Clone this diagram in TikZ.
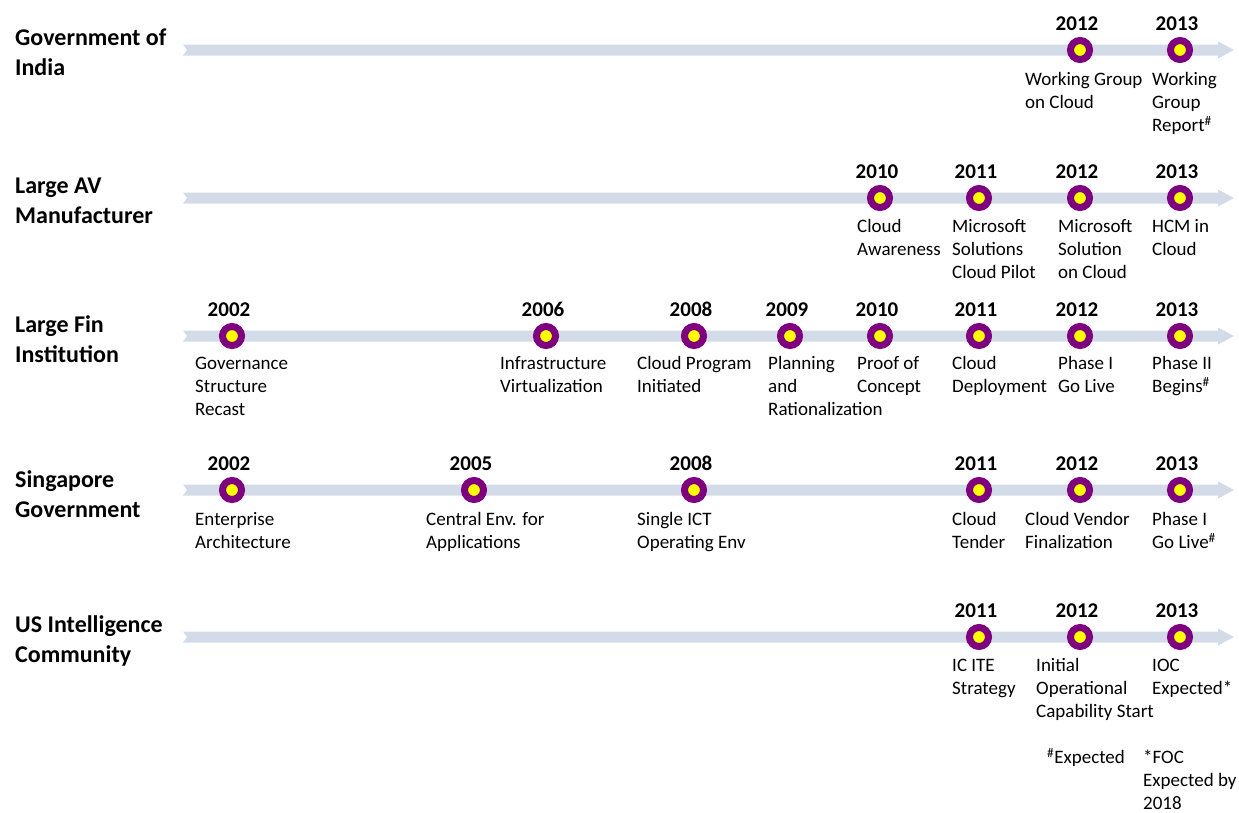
\documentclass[tikz,border=0pt]{standalone}
\usepackage{fontspec}
\setmainfont{Carlito}
\usetikzlibrary{calc}
\definecolor{barc}{HTML}{D3DAE8}
\definecolor{dotp}{HTML}{7F007F}
\definecolor{doty}{HTML}{FFFF00}
\tikzset{
  dotn/.style={circle, draw=dotp, line width=7pt, fill=doty, minimum size=19pt, inner sep=0pt},
  yearn/.style={inner sep=0pt, anchor=base, font=\bfseries\fontsize{21}{25}\selectfont},
  lbln/.style={inner sep=0pt, anchor=north west, align=left, font=\fontsize{19}{23}\selectfont},
  titlen/.style={inner sep=0pt, anchor=north west, align=left, font=\bfseries\fontsize{24}{30}\selectfont},
  barn/.style={fill=barc}
}
\newcommand\tlbar[2]{%
  \coordinate (#1s) at (183,#2);
  \coordinate (#1e) at (1234,#2);
  \fill[barn] ($(#1s)+(0,-5.5)$) -- ($(#1e)+(-16,-5.5)$) -- ($(#1e)+(-16,-8.5)$) -- (#1e)
     -- ($(#1e)+(-16,8.5)$) -- ($(#1e)+(-16,5.5)$) -- ($(#1s)+(0,5.5)$) -- ($(#1s)+(4,0)$) -- cycle;}
\newcommand\ev[7]{%
  \node[dotn] (#1) at (#2,#3) {};
  \node[yearn] (#1y) at ($(#1)+(-3,-19.5)$) {#4};
  \node[lbln] (#1l) at (#5,#6) {\strut #7};}
\begin{document}
\begin{tikzpicture}[x=1pt,y=-1pt]
\useasboundingbox (0,0) rectangle (1239,812);
% titles
\node[titlen] (t1) at (15,24) {\strut Government of\\India};
\node[titlen] (t2) at (15,172) {\strut Large AV\\Manufacturer};
\node[titlen] (t3) at (15,311) {\strut Large Fin\\Institution};
\node[titlen] (t4) at (15,466) {\strut Singapore\\Government};
\node[titlen] (t5) at (15,611) {\strut US Intelligence\\Community};
% bars
\tlbar{r1}{50}
\tlbar{r2}{198}
\tlbar{r3}{336}
\tlbar{r4}{490}
\tlbar{r5}{637}
% row 1
\ev{g12}{1080}{50}{2012}{1025}{69}{Working Group\\on Cloud}
\ev{g13}{1180}{50}{2013}{1152}{69}{Working\\Group\\Report\textsuperscript{\#}}
% row 2
\ev{a10}{880}{198}{2010}{857}{216}{Cloud\\Awareness}
\ev{a11}{979}{198}{2011}{952}{216}{Microsoft\\Solutions\\Cloud Pilot}
\ev{a12}{1080}{198}{2012}{1058}{216}{Microsoft\\Solution\\on Cloud}
\ev{a13}{1180}{198}{2013}{1152}{216}{HCM in\\Cloud}
% row 3
\ev{f02}{232}{336}{2002}{195}{353}{Governance\\Structure\\Recast}
\ev{f06}{546}{336}{2006}{500}{353}{Infrastructure\\Virtualization}
\ev{f08}{694}{336}{2008}{637}{353}{Cloud Program\\Initiated}
\ev{f09}{790}{336}{2009}{768}{353}{Planning\\and\\Rationalization}
\ev{f10}{880}{336}{2010}{857}{353}{Proof of\\Concept}
\ev{f11}{979}{336}{2011}{952}{353}{Cloud\\Deployment}
\ev{f12}{1080}{336}{2012}{1058}{353}{Phase I\\Go Live}
\ev{f13}{1180}{336}{2013}{1152}{353}{Phase II\\Begins\textsuperscript{\#}}
% row 4
\ev{s02}{232}{490}{2002}{195}{509}{Enterprise\\Architecture}
\ev{s05}{474}{490}{2005}{426}{509}{Central Env. for\\Applications}
\ev{s08}{694}{490}{2008}{637}{509}{Single ICT\\Operating Env}
\ev{s11}{979}{490}{2011}{952}{509}{Cloud\\Tender}
\ev{s12}{1080}{490}{2012}{1025}{509}{Cloud Vendor\\Finalization}
\ev{s13}{1180}{490}{2013}{1152}{509}{Phase I\\Go Live\textsuperscript{\#}}
% row 5
\ev{u11}{979}{637}{2011}{952}{655}{IC ITE\\Strategy}
\ev{u12}{1080}{637}{2012}{1036}{655}{Initial\\Operational\\Capability Start}
\ev{u13}{1180}{637}{2013}{1152}{655}{IOC\\Expected*}
% footnotes
\node[lbln] (fn1) at (1047,747) {\strut\textsuperscript{\#}Expected};
\node[lbln] (fn2) at (1143,747) {\strut *FOC\\Expected by\\2018};
\end{tikzpicture}
\end{document}
